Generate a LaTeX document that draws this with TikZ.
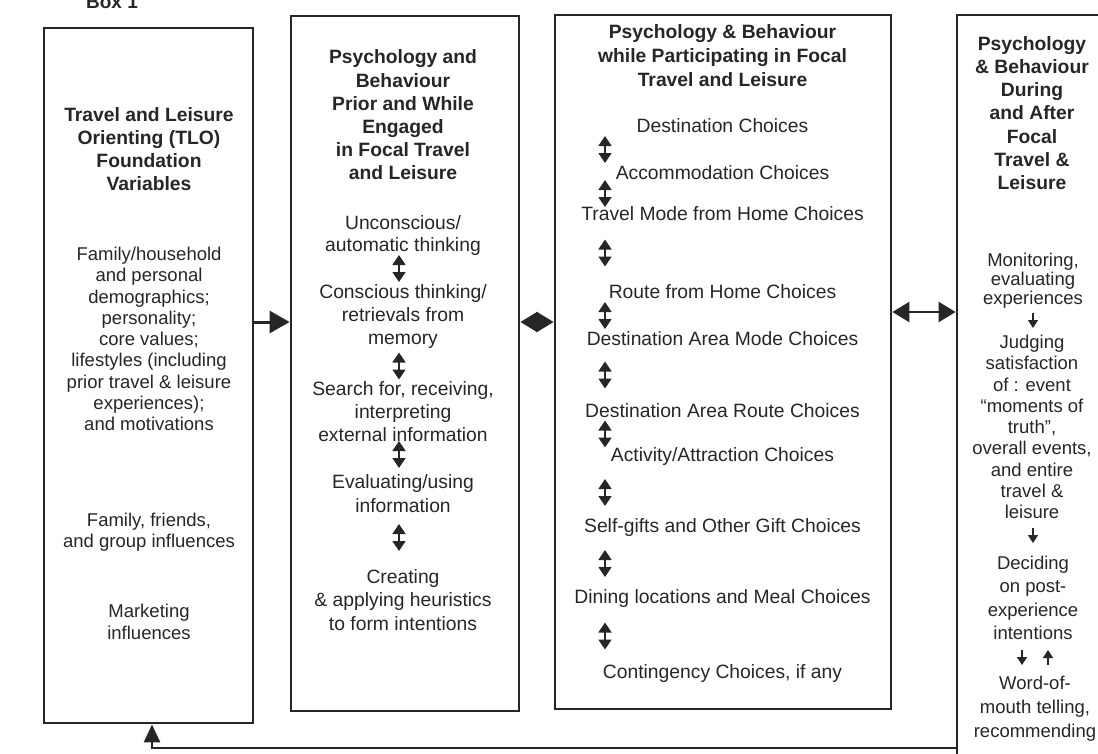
\documentclass[tikz,border=0pt]{standalone}
\usepackage{fontspec}
\setmainfont{Liberation Sans}
\usetikzlibrary{arrows.meta,calc}
\definecolor{ink}{HTML}{262626}
\begin{document}
\begin{tikzpicture}[x=1pt,y=-1pt,
  every node/.style={inner sep=0pt,text=ink,align=center},
  frame/.style={draw=ink,line width=2.8pt},
  head/.style={font=\bfseries\fontsize{19.3}{23.2}\selectfont},
  bodyA/.style={font=\fontsize{18.5}{21.3}\selectfont},
  bodyB/.style={font=\fontsize{19.3}{23.3}\selectfont},
  item/.style={font=\fontsize{19.3}{23}\selectfont},
  bigarrow/.style={draw=ink,line width=3pt,-{Triangle[length=20pt,width=22pt]}},
  twoway/.style={draw=ink,line width=2.4pt,{Triangle[length=17pt,width=20pt]}-{Triangle[length=17pt,width=20pt]}},
  backarrow/.style={draw=ink,line width=2.8pt,-{Triangle[length=18pt,width=16pt]}},
  dbl/.style={draw=ink,line width=1.6pt,{Triangle[length=10pt,width=13pt]}-{Triangle[length=10pt,width=13pt]}},
  sm/.style={draw=ink,line width=1.5pt,-{Triangle[length=8pt,width=10pt]}}
]
\useasboundingbox (0,0) rectangle (1098,753);
\clip (0,0) rectangle (1098,753);

% the four stage frames
\node[frame,minimum width=209,minimum height=695] (b1) at (148.5,375.5) {};
\node[frame,minimum width=228,minimum height=695] (b2) at (405,363.5) {};
\node[frame,minimum width=336,minimum height=694] (b3) at (723,362) {};
\node[frame,minimum width=163,minimum height=765] (b4) at (1038.5,397.5) {};

\node[font=\bfseries\fontsize{19}{19}\selectfont,anchor=base] (lbl) at (112,8) {Box 1};

% Box 1: foundation variables
\node[head] (h1) at (149,149) {Travel and Leisure\\Orienting (TLO)\\Foundation\\Variables};
\node[bodyA] (t11) at (149,339) {Family/household\\and personal\\demographics;\\personality;\\core values;\\lifestyles (including\\prior travel \& leisure\\experiences);\\and motivations};
\node[bodyA] (t12) at (149,532.5) {Family, friends,\\and group influences};
\node[bodyA] (t13) at (149,622) {Marketing\\influences};

% Box 2: prior and while engaged
\node[head] (h2) at (403,115) {Psychology and\\Behaviour\\Prior and While\\Engaged\\in Focal Travel\\and Leisure};
\node[bodyB,font=\fontsize{19.3}{22}\selectfont] (t21) at (403,236) {Unconscious/\\automatic thinking};
\node[bodyB] (t22) at (403,316.5) {Conscious thinking/\\retrievals from\\memory};
\node[bodyB] (t23) at (403,411.5) {Search for, receiving,\\interpreting\\external information};
\node[bodyB] (t24) at (403,493.5) {Evaluating/using\\information};
\node[bodyB] (t25) at (403,600) {Creating\\\& applying heuristics\\to form intentions};
\foreach \yc in {268.5,366,454.5,537.5}
  \draw[dbl] (399,\yc) ++(0,-13.5) -- ++(0,27);

% Box 3: participating in focal travel and leisure
\node[head,font=\bfseries\fontsize{19.3}{24}\selectfont] (h3) at (722.5,56) {Psychology \& Behaviour\\while Participating in Focal\\Travel and Leisure};
\node[item] (c1) at (722.5,126) {Destination Choices};
\node[item] (c2) at (722.5,173) {Accommodation Choices};
\node[item] (c3) at (722.5,214) {Travel Mode from Home Choices};
\node[item] (c4) at (722.5,292) {Route from Home Choices};
\node[item] (c5) at (722.5,339) {Destination Area Mode Choices};
\node[item] (c6) at (722.5,411) {Destination Area Route Choices};
\node[item] (c7) at (722.5,457) {Activity/Attraction Choices};
\node[item] (c8) at (722.5,528) {Self-gifts and Other Gift Choices};
\node[item] (c9) at (722.5,599) {Dining locations and Meal Choices};
\node[item] (c10) at (722.5,673) {Contingency Choices, if any};
\coordinate (col3) at (605,0);
\foreach \a/\b in {c1/c2,c2/c3,c3/c4,c4/c5,c5/c6,c6/c7,c7/c8,c8/c9,c9/c10}{
  \path ($(\a)!0.5!(\b)$) coordinate (m);
  \draw[dbl] (m -| col3) ++(0,-13.5) -- ++(0,27);
}

% Box 4: during and after
\node[head,font=\bfseries\fontsize{19.3}{23.3}\selectfont] (h4) at (1032,113) {Psychology\\\& Behaviour\\During\\and After\\Focal\\Travel \&\\Leisure};
\node[font=\fontsize{18.5}{19}\selectfont] (d1) at (1033,281) {Monitoring,\\evaluating\\experiences};
\node[font=\fontsize{18.5}{21.25}\selectfont] (d2) at (1032,427) {Judging\\satisfaction\\of : event\\“moments of\\truth”,\\overall events,\\and entire\\travel \&\\leisure};
\node[font=\fontsize{18.5}{23.3}\selectfont] (d3) at (1033,598) {Deciding\\on post-\\experience\\intentions};
\node[font=\fontsize{18.5}{24}\selectfont] (d4) at (1035,709) {Word-of-\\mouth telling,\\recommending};
\draw[sm] (1033,313) -- (1033,328);
\draw[sm] (1033,528) -- (1033,543);
\draw[sm] (1022,650) -- (1022,665);
\draw[sm] (1048,665) -- (1048,650);

% links between the stages
\coordinate (rowA) at (0,322);
\coordinate (rowB) at (0,312);
\coordinate (rowC) at (0,748);
\coordinate (back) at (152,0);
\draw[bigarrow] (b1.east |- rowA) -- (b2.west |- rowA);
\draw[twoway] (b2.east |- rowA) -- (b3.west |- rowA);
\draw[twoway] (b3.east |- rowB) -- (b4.west |- rowB);
\draw[backarrow] (b4.west |- rowC) -- (back |- rowC) -- (back |- b1.south);
\end{tikzpicture}
\end{document}
